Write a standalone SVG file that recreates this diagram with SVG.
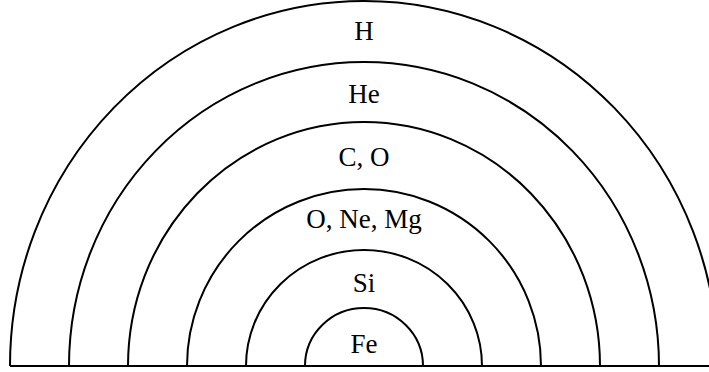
<svg xmlns="http://www.w3.org/2000/svg" width="709" height="372" viewBox="0 0 709 372">
<style>
.arc{fill:none;stroke:#000;stroke-width:2}
.lbl{font-family:"Liberation Serif","Times New Roman",serif;font-size:27px;fill:#000;text-anchor:middle}
</style>
<rect width="709" height="372" fill="#fff"/>
<g id="connectors">
<line class="arc" x1="10" y1="366" x2="709" y2="366"/>
</g>
<g id="H"><path class="arc" d="M10,366 A354,365 0 0 1 718,366"/><text class="lbl" x="364" y="40">H</text></g>
<g id="He"><path class="arc" d="M69,366 A295,304 0 0 1 659,366"/><text class="lbl" x="364" y="103">He</text></g>
<g id="CO"><path class="arc" d="M128,366 A236,244 0 0 1 600,366"/><text class="lbl" x="364" y="166">C, O</text></g>
<g id="ONeMg"><path class="arc" d="M187,366 A177,177 0 0 1 541,366"/><text class="lbl" x="364" y="228">O, Ne, Mg</text></g>
<g id="Si"><path class="arc" d="M246,366 A118,116 0 0 1 482,366"/><text class="lbl" x="364" y="292">Si</text></g>
<g id="Fe"><path class="arc" d="M305,366 A59,58 0 0 1 423,366"/><text class="lbl" x="364" y="353">Fe</text></g>
</svg>
